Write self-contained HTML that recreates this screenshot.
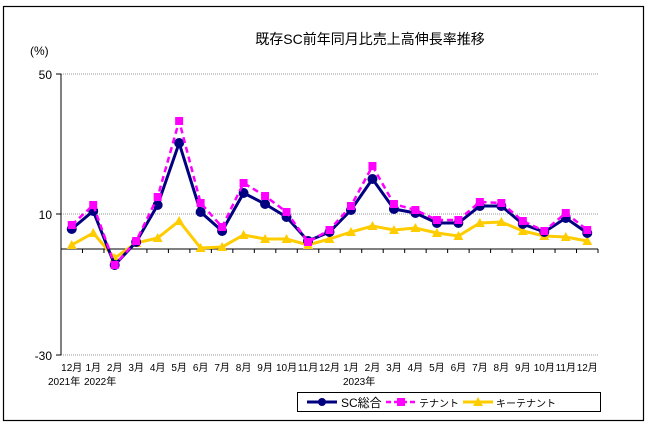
<!DOCTYPE html>
<html><head><meta charset="utf-8"><style>
body{margin:0;background:#fff;}
svg{display:block;font-family:"Liberation Sans","Noto Sans CJK JP",sans-serif;}
</style></head><body>
<svg width="650" height="426" viewBox="0 0 650 426">
<rect x="3.5" y="6.5" width="640" height="414" fill="#fff" stroke="#000" stroke-width="1.2"/>
<text x="370" y="44" font-size="14" text-anchor="middle" fill="#000">既存SC前年同月比売上高伸長率推移</text>
<text x="30" y="55" font-size="12">(%)</text>
<line x1="61" y1="74" x2="598" y2="74" stroke="#999" stroke-dasharray="1,1"/>
<line x1="61" y1="214" x2="598" y2="214" stroke="#999" stroke-dasharray="1,1"/>
<line x1="61" y1="355" x2="598" y2="355" stroke="#999" stroke-dasharray="1,1"/>
<line x1="61" y1="74" x2="61" y2="355" stroke="#000"/>
<line x1="56" y1="74" x2="61" y2="74" stroke="#000"/>
<line x1="56" y1="214" x2="61" y2="214" stroke="#000"/>
<line x1="56" y1="355" x2="61" y2="355" stroke="#000"/>
<line x1="61" y1="249" x2="598" y2="249" stroke="#000"/>
<g stroke="#000" id="ticks"></g>
<text x="52" y="79" font-size="12" text-anchor="end">50</text>
<text x="52" y="219" font-size="12" text-anchor="end">10</text>
<text x="52" y="360" font-size="12" text-anchor="end">-30</text>
<g font-size="10" text-anchor="middle" id="xl"></g>
<text x="48" y="385" font-size="10">2021年</text>
<text x="84" y="385" font-size="10">2022年</text>
<text x="343" y="385" font-size="10">2023年</text>
<g id="series"></g>
<rect x="297.5" y="392.5" width="303" height="19" fill="#fff" stroke="#000"/>
<line x1="307" y1="402" x2="337" y2="402" stroke="#000080" stroke-width="3"/><circle cx="322" cy="402" r="4" fill="#000080"/>
<text x="341" y="407" font-size="12">SC総合</text>
<line x1="386" y1="402" x2="416" y2="402" stroke="#f0f" stroke-width="2.5" stroke-dasharray="5,3"/><rect x="397" y="398" width="8" height="8" fill="#f0f"/>
<text x="419" y="407" font-size="10">テナント</text>
<line x1="463" y1="402" x2="493" y2="402" stroke="#fc0" stroke-width="3"/><polygon points="478,397 483,406 473,406" fill="#fc0"/>
<text x="496" y="407" font-size="10">キーテナント</text>
</svg>
<script>
var ns="http://www.w3.org/2000/svg";
function el(p,t,a,txt){var e=document.createElementNS(ns,t);for(var k in a)e.setAttribute(k,a[k]);if(txt)e.textContent=txt;p.appendChild(e);return e;}
var tk=document.getElementById("ticks"),xl=document.getElementById("xl"),S=document.getElementById("series");
var labs=["12月","1月","2月","3月","4月","5月","6月","7月","8月","9月","10月","11月","12月","1月","2月","3月","4月","5月","6月","7月","8月","9月","10月","11月","12月"];
for(var i=0;i<=25;i++){var x=61+21.48*i;el(tk,"line",{x1:x,y1:249,x2:x,y2:253});}
var X=[];for(var i=0;i<25;i++){X.push(61+21.48*(i+0.5));el(xl,"text",{x:X[i],y:371},labs[i]);}
var sc=[229,211,265,242,205,143,212,231,193,204,217,241,232,210,179,209,213,223,223,206,206,224,232,218,233];
var te=[225,205,265,241,197,121,203,227,183,196,212,242,230,206,166,204,210,220,220,202,203,221,231,213,230];
var ke=[245,233,258,243,238,221,248,247,235,239,239,245,239,232,226,230,228,233,236,223,222,231,236,237,241];
function pts(a){return a.map(function(y,i){return X[i]+","+y}).join(" ");}
el(S,"polyline",{points:pts(ke),fill:"none",stroke:"#fc0","stroke-width":3});
ke.forEach(function(y,i){el(S,"polygon",{points:X[i]+","+(y-5)+" "+(X[i]+5)+","+(y+4)+" "+(X[i]-5)+","+(y+4),fill:"#fc0"});});
el(S,"polyline",{points:pts(sc),fill:"none",stroke:"#000080","stroke-width":3});
sc.forEach(function(y,i){el(S,"circle",{cx:X[i],cy:y,r:5,fill:"#000080"});});
el(S,"polyline",{points:pts(te),fill:"none",stroke:"#f0f","stroke-width":2.5,"stroke-dasharray":"6,4"});
te.forEach(function(y,i){el(S,"rect",{x:X[i]-4,y:y-4,width:8,height:8,fill:"#f0f"});});
</script>
</body></html>
